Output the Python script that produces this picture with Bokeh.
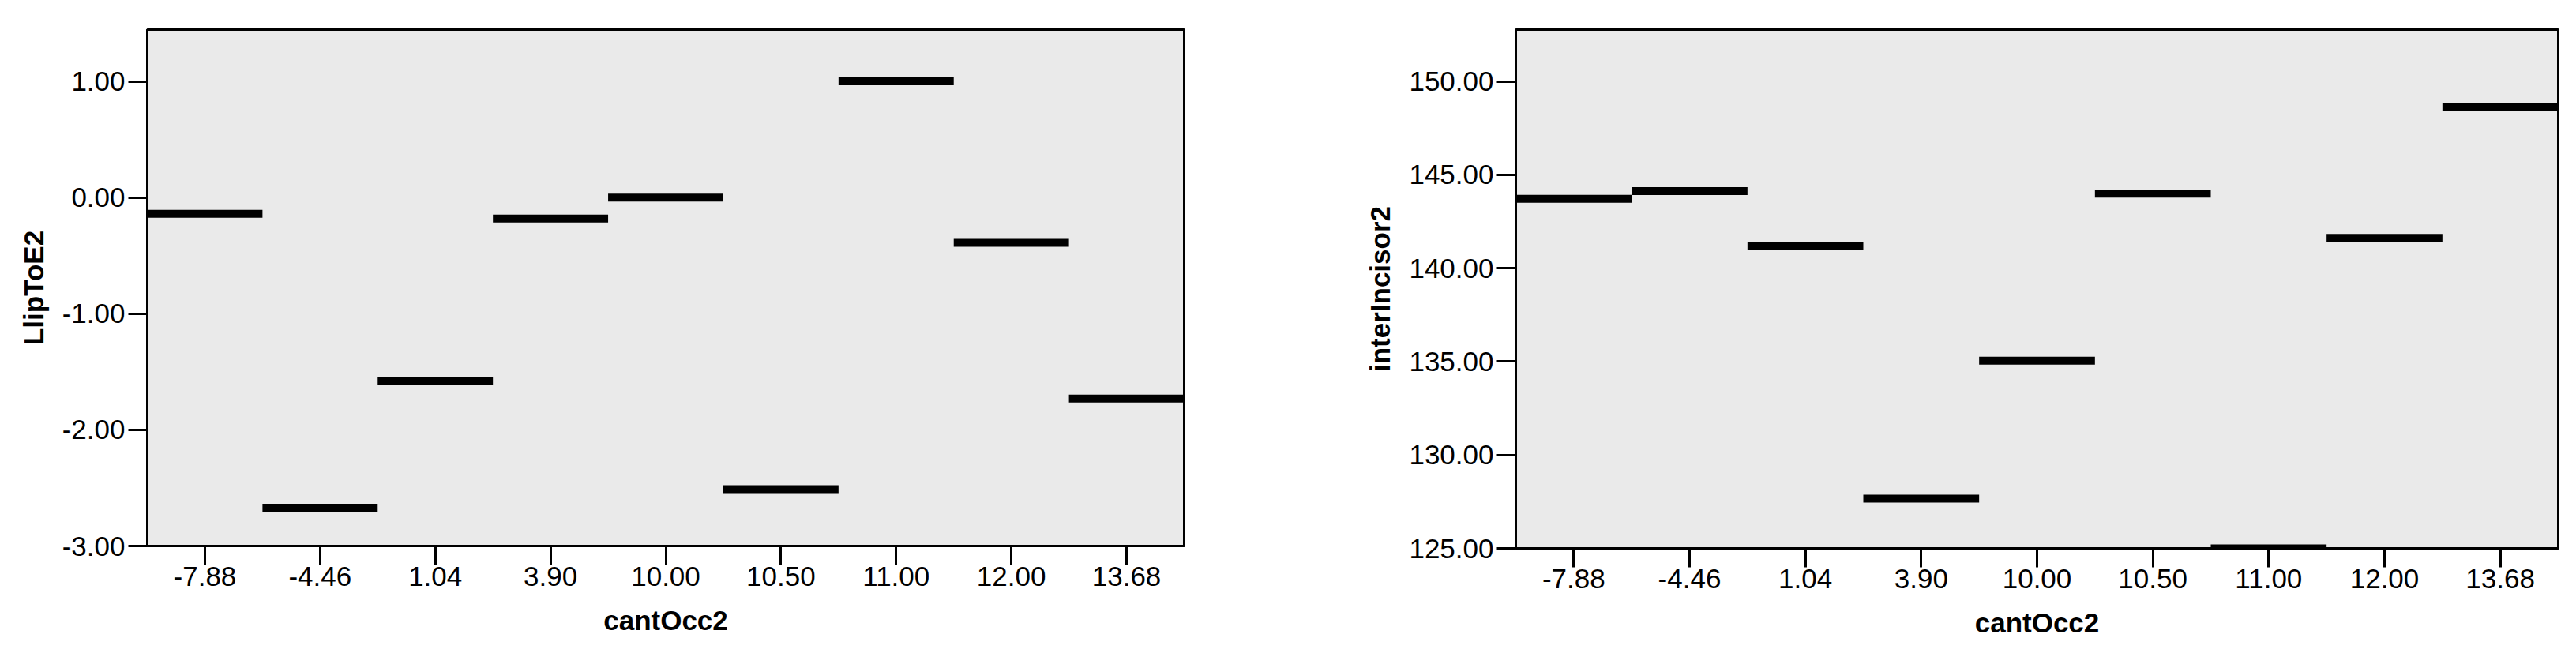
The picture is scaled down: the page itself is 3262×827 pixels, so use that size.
from bokeh.plotting import figure
from bokeh.layouts import row
from bokeh.models import FactorRange, Range1d, FixedTicker, NumeralTickFormatter, ColumnDataSource
from bokeh.embed import file_html
from bokeh.resources import INLINE

categories = ["-7.88", "-4.46", "1.04", "3.90", "10.00", "10.50", "11.00", "12.00", "13.68"]
llip_to_e2 = [-0.14, -2.67, -1.58, -0.18, 0.00, -2.51, 1.00, -0.39, -1.73]
inter_incisor2 = [143.71, 144.13, 141.18, 127.66, 135.05, 143.99, 125.00, 141.62, 148.61]
left_ticks = [-3, -2, -1, 0, 1]
right_ticks = [125, 130, 135, 140, 145, 150]

FONT = "Liberation Sans"
FS = "35px"


def make_fig(values, y_start, y_end, ticks, ylabel, bl, br, bt, bb, fw, fh):
    p = figure(x_range=FactorRange(*categories), y_range=Range1d(y_start, y_end),
               frame_width=fw, frame_height=fh,
               min_border_left=bl, min_border_right=br, min_border_top=bt, min_border_bottom=bb,
               output_backend="svg", toolbar_location=None, tools="")
    p.background_fill_color = "#EAEAEA"
    p.border_fill_color = "white"
    p.outline_line_color = "black"
    p.outline_line_width = 3
    p.xgrid.visible = False
    p.ygrid.visible = False
    src = ColumnDataSource(dict(cat=categories, val=values))
    p.rect(x="cat", y="val", width=1.0, height=10, height_units="screen",
           fill_color="black", line_color=None, source=src)
    p.yaxis.ticker = FixedTicker(ticks=ticks)
    p.yaxis.formatter = NumeralTickFormatter(format="0.00")
    for ax in (p.xaxis[0], p.yaxis[0]):
        ax.axis_line_width = 3
        ax.axis_line_color = "black"
        ax.major_tick_out = 24
        ax.major_tick_in = 0
        ax.major_tick_line_width = 3
        ax.major_tick_line_color = "black"
        ax.minor_tick_out = 0
        ax.minor_tick_in = 0
        ax.major_label_text_font = FONT
        ax.major_label_text_font_size = FS
        ax.major_label_text_color = "black"
        ax.axis_label_text_font = FONT
        ax.axis_label_text_font_size = FS
        ax.axis_label_text_font_style = "bold"
        ax.axis_label_text_color = "black"
    p.xaxis.axis_label = "cantOcc2"
    p.yaxis.axis_label = ylabel
    p.xaxis.major_label_standoff = 2
    p.yaxis.major_label_standoff = 4
    p.xaxis.axis_label_standoff = 21
    p.yaxis.axis_label_standoff = 14
    return p


p1 = make_fig(llip_to_e2, -3.0, 1.446, left_ticks, "LlipToE2", 186, 60, 37, 125, 1313, 654)
p2 = make_fig(inter_incisor2, 125.0, 152.77, right_ticks, "interIncisor2", 360, 10, 32, 127, 1320, 657)

layout = row(p1, p2)
open("out.html", "w").write(file_html(layout, INLINE))
